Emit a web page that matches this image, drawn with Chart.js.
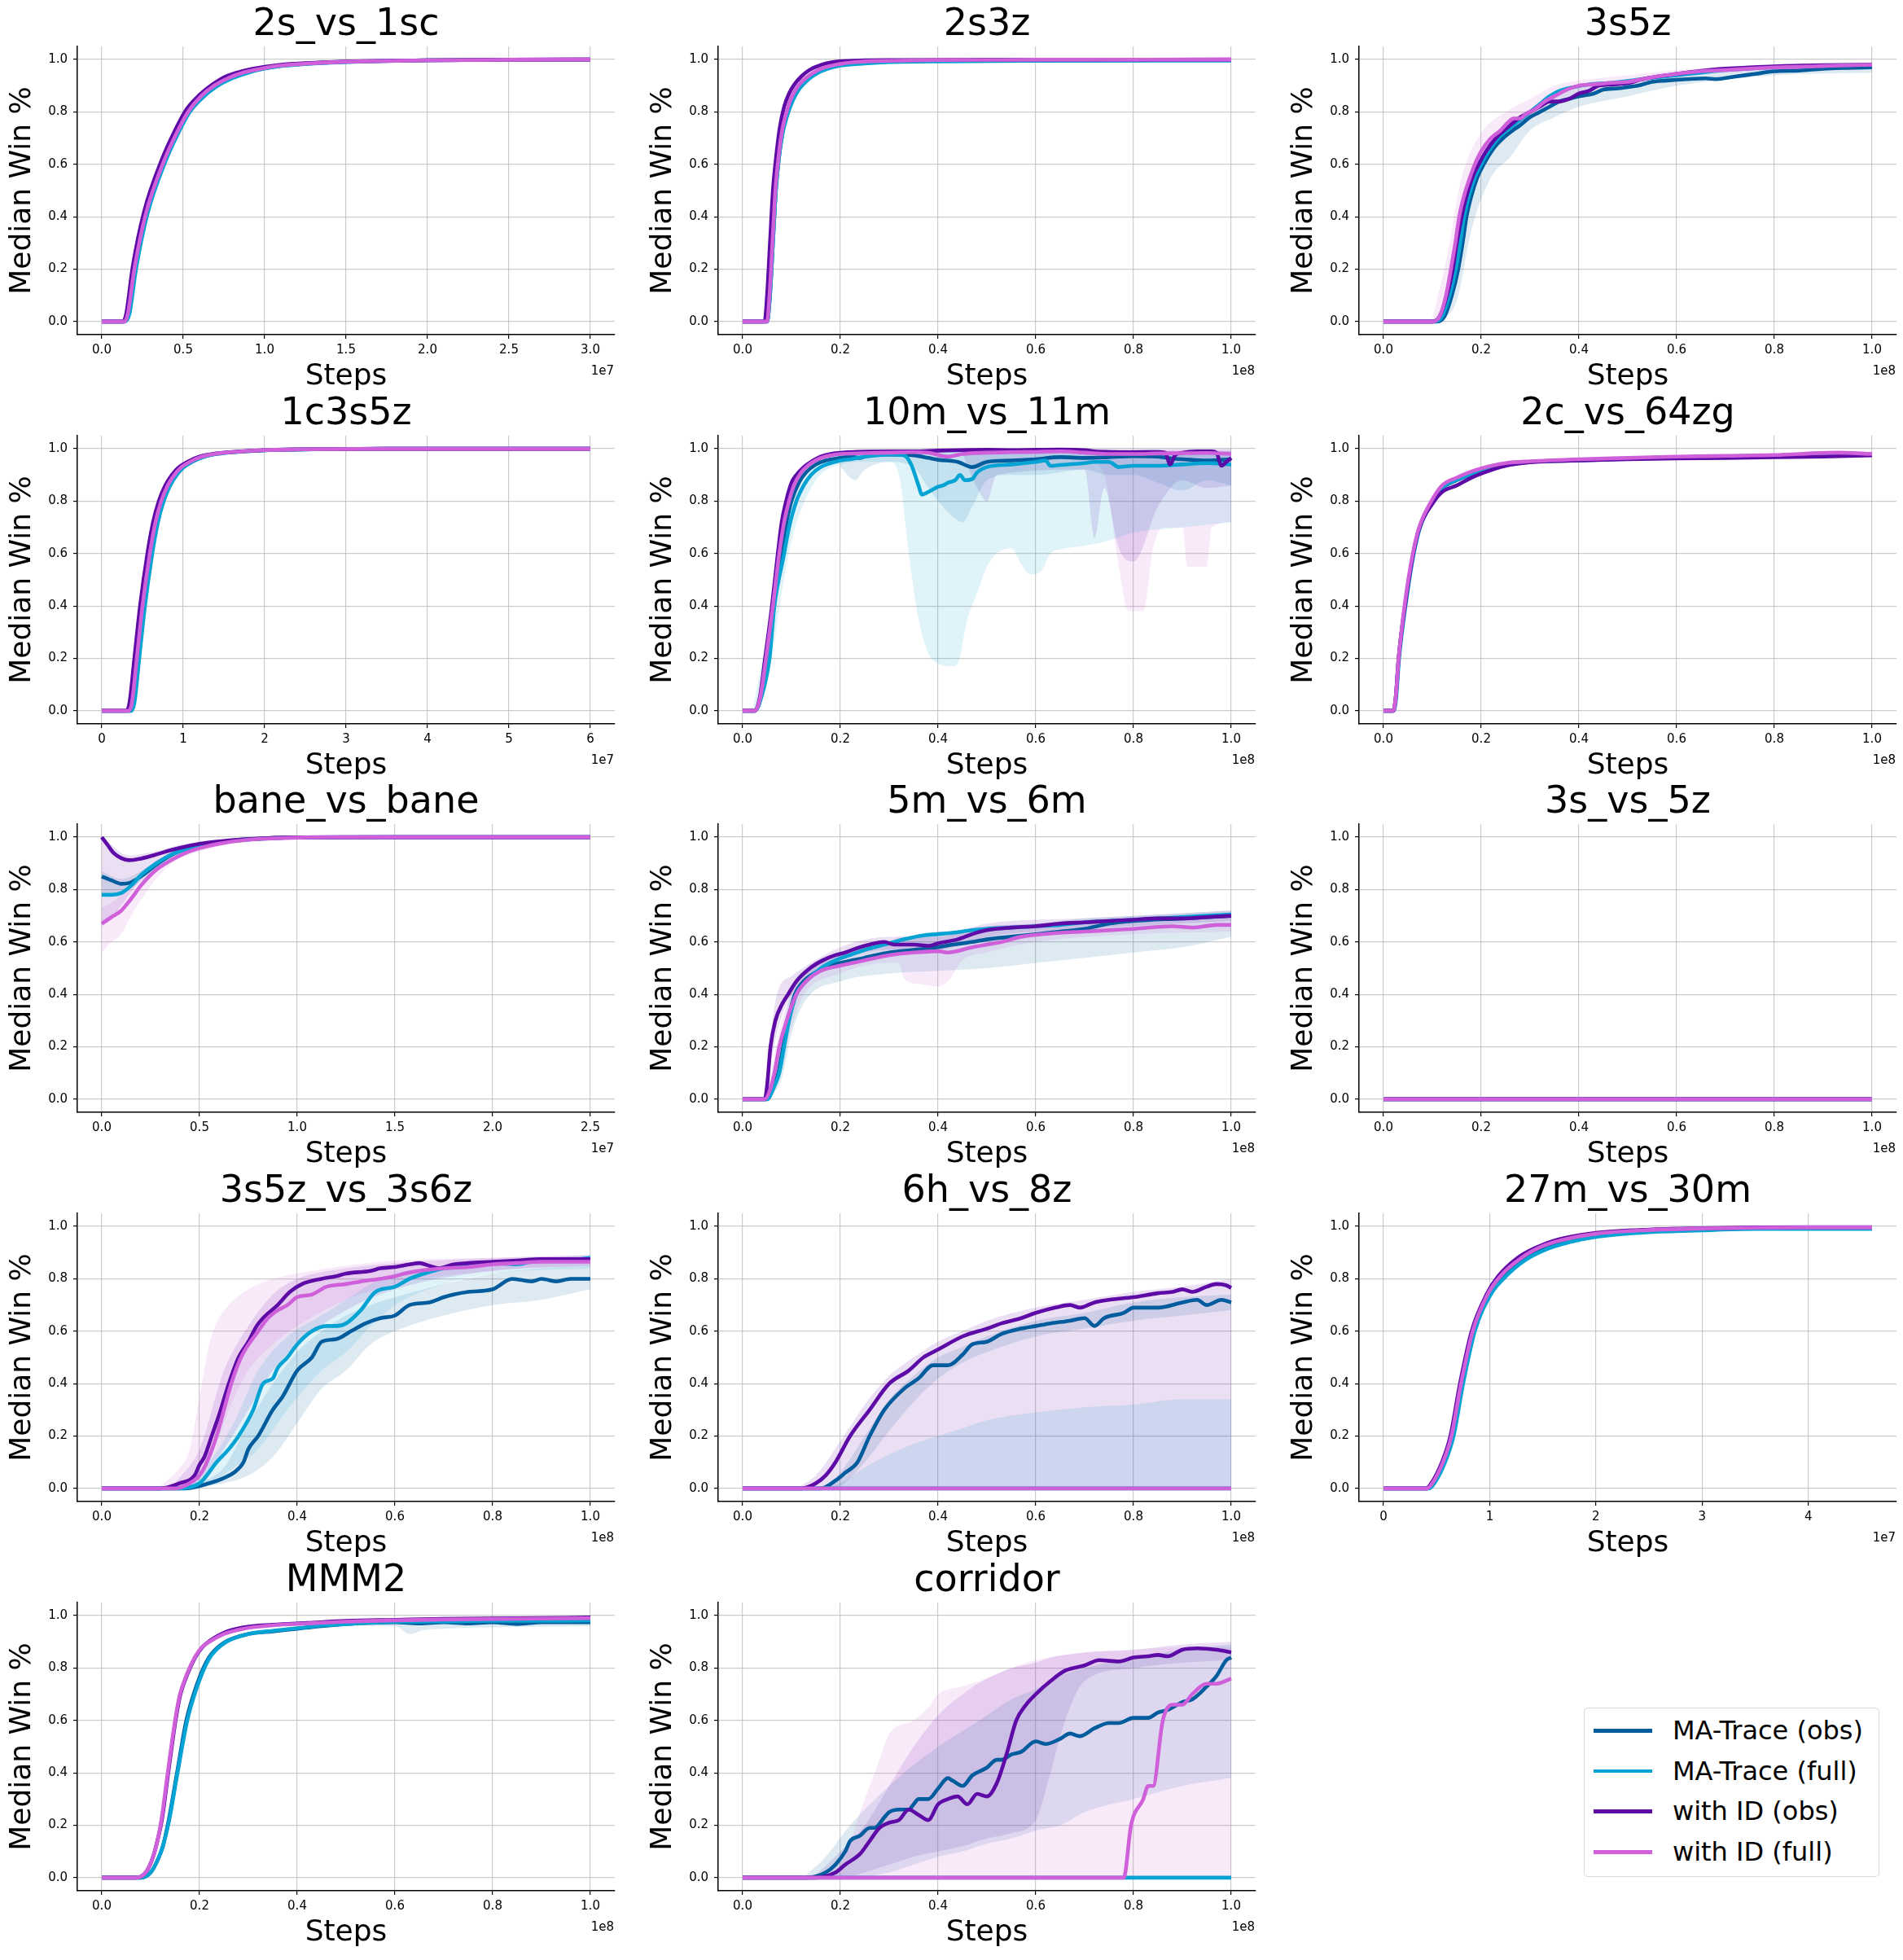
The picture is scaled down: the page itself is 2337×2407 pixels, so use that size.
<!DOCTYPE html>
<html><head><meta charset="utf-8">
<script src="https://cdn.jsdelivr.net/npm/chart.js@4.4.1/dist/chart.umd.min.js"></script>
<style>
html,body{margin:0;padding:0;background:#fff;}
body{width:2337px;height:2407px;position:relative;overflow:hidden;font-family:"DejaVu Sans",sans-serif;}
canvas{position:absolute;}
#legend{position:absolute;left:1945px;top:2097px;width:361px;height:206px;border:1.5px solid #d9d9d9;border-radius:5px;background:#fff;}
.lrow{position:absolute;left:0;height:40px;line-height:40px;font-size:32px;color:#000;white-space:nowrap;}
.lsw{position:absolute;left:11px;top:18px;width:72px;height:4.5px;}
.ltx{position:absolute;left:108px;top:0;}
</style></head>
<body>
<div id="legend"></div>
<script>
// ---------- series names & colours ----------
const seriesNames = ['MA-Trace (obs)','MA-Trace (full)','with ID (obs)','with ID (full)'];
const seriesColors = ['#015C9E','#04A3D3','#5E0AA6','#CF60DA'];

// ---------- tick values ----------
const yTicks = [0,0.2,0.4,0.6,0.8,1.0];
const xt_1 = [0,0.2,0.4,0.6,0.8,1.0];
const xt_3 = [0,0.5,1.0,1.5,2.0,2.5,3.0];
const xt_25 = [0,0.5,1.0,1.5,2.0,2.5];
const xt_6 = [0,1,2,3,4,5,6];
const xt_4 = [0,1,2,3,4];

// ---------- 2s_vs_1sc (x in 1e7 steps) ----------
const d_2s_vs_1sc_maObs = [[0,0],[0.14,0],[0.16,0.03],[0.2,0.2],[0.27,0.41],[0.38,0.61],[0.46,0.72],[0.53,0.8],[0.61,0.858],[0.69,0.898],[0.78,0.93],[0.88,0.951],[1.0,0.967],[1.1,0.976],[1.25,0.984],[1.4,0.989],[1.6,0.993],[2.0,0.997],[2.5,0.999],[3.0,1.0]];
const d_2s_vs_1sc_maFull = [[0,0],[0.14,0],[0.17,0.03],[0.21,0.2],[0.28,0.41],[0.39,0.61],[0.47,0.72],[0.54,0.8],[0.62,0.855],[0.7,0.895],[0.8,0.928],[0.9,0.95],[1.0,0.965],[1.12,0.976],[1.3,0.985],[1.5,0.99],[1.7,0.994],[2.0,0.997],[2.5,0.998],[3.0,1.0]];
const d_2s_vs_1sc_idObs = [[0,0],[0.13,0],[0.15,0.03],[0.19,0.21],[0.26,0.42],[0.37,0.62],[0.45,0.73],[0.52,0.81],[0.6,0.865],[0.68,0.905],[0.76,0.935],[0.86,0.955],[1.0,0.972],[1.1,0.98],[1.25,0.986],[1.4,0.99],[1.6,0.994],[2.0,0.997],[2.5,0.999],[3.0,1.0]];
const d_2s_vs_1sc_idFull = [[0,0],[0.14,0],[0.16,0.03],[0.2,0.2],[0.27,0.41],[0.38,0.61],[0.46,0.72],[0.53,0.8],[0.61,0.86],[0.69,0.9],[0.78,0.93],[0.88,0.952],[1.0,0.968],[1.1,0.977],[1.25,0.984],[1.4,0.989],[1.6,0.993],[2.0,0.997],[2.5,0.999],[3.0,1.0]];

// ---------- 2s3z (1e8) ----------
const d_2s3z_maObs = [[0,0],[0.05,0],[0.056,0.1],[0.062,0.3],[0.068,0.5],[0.074,0.62],[0.082,0.725],[0.091,0.795],[0.102,0.85],[0.116,0.895],[0.133,0.93],[0.152,0.953],[0.175,0.97],[0.2,0.98],[0.25,0.988],[0.3,0.992],[0.4,0.995],[0.6,0.997],[1.0,0.998]];
const d_2s3z_maFull = [[0,0],[0.05,0],[0.056,0.1],[0.062,0.3],[0.068,0.5],[0.074,0.62],[0.082,0.72],[0.092,0.79],[0.103,0.845],[0.117,0.89],[0.135,0.925],[0.155,0.95],[0.18,0.968],[0.2,0.977],[0.25,0.985],[0.3,0.99],[0.4,0.993],[0.6,0.995],[1.0,0.996]];
const d_2s3z_idObs = [[0,0],[0.045,0],[0.05,0.1],[0.056,0.3],[0.062,0.5],[0.068,0.62],[0.076,0.74],[0.085,0.82],[0.095,0.87],[0.106,0.905],[0.12,0.935],[0.135,0.958],[0.15,0.972],[0.17,0.985],[0.2,0.993],[0.25,0.997],[0.3,0.998],[0.5,0.999],[1.0,1.0]];
const d_2s3z_idFull = [[0,0],[0.05,0],[0.055,0.1],[0.061,0.3],[0.067,0.5],[0.073,0.62],[0.081,0.73],[0.09,0.8],[0.1,0.855],[0.114,0.9],[0.13,0.93],[0.145,0.95],[0.165,0.968],[0.196,0.982],[0.23,0.99],[0.3,0.995],[0.4,0.998],[0.6,0.999],[1.0,1.0]];

// ---------- 3s5z (1e8) ----------
const d_3s5z_maObs = [[0,0],[0.11,0],[0.125,0.02],[0.14,0.1],[0.153,0.2],[0.162,0.3],[0.17,0.4],[0.18,0.48],[0.192,0.55],[0.205,0.6],[0.225,0.66],[0.245,0.7],[0.265,0.73],[0.28,0.75],[0.3,0.78],[0.32,0.8],[0.34,0.82],[0.36,0.84],[0.38,0.85],[0.4,0.86],[0.43,0.87],[0.45,0.885],[0.48,0.89],[0.5,0.895],[0.52,0.9],[0.55,0.915],[0.58,0.92],[0.62,0.925],[0.66,0.928],[0.68,0.925],[0.72,0.935],[0.76,0.945],[0.8,0.955],[0.85,0.958],[0.9,0.965],[0.95,0.968],[1.0,0.97]];
const d_3s5z_maFull = [[0,0],[0.105,0],[0.12,0.02],[0.135,0.1],[0.148,0.2],[0.157,0.3],[0.165,0.4],[0.175,0.48],[0.187,0.55],[0.2,0.6],[0.215,0.65],[0.235,0.7],[0.26,0.74],[0.28,0.77],[0.3,0.8],[0.32,0.83],[0.34,0.86],[0.36,0.88],[0.39,0.895],[0.42,0.905],[0.46,0.91],[0.5,0.918],[0.55,0.93],[0.6,0.94],[0.65,0.95],[0.7,0.96],[0.8,0.97],[0.9,0.977],[1.0,0.98]];
const d_3s5z_idObs = [[0,0],[0.1,0],[0.115,0.02],[0.13,0.1],[0.142,0.2],[0.15,0.3],[0.16,0.4],[0.17,0.48],[0.182,0.55],[0.195,0.6],[0.21,0.65],[0.23,0.7],[0.26,0.75],[0.28,0.78],[0.3,0.8],[0.32,0.82],[0.34,0.84],[0.36,0.84],[0.38,0.85],[0.4,0.87],[0.42,0.88],[0.44,0.9],[0.47,0.905],[0.5,0.91],[0.53,0.925],[0.56,0.935],[0.6,0.945],[0.65,0.957],[0.7,0.965],[0.75,0.97],[0.8,0.974],[0.9,0.978],[1.0,0.98]];
const d_3s5z_idFull = [[0,0],[0.1,0],[0.115,0.02],[0.128,0.1],[0.138,0.2],[0.147,0.3],[0.155,0.4],[0.165,0.48],[0.177,0.55],[0.187,0.6],[0.2,0.65],[0.22,0.7],[0.24,0.73],[0.255,0.76],[0.266,0.775],[0.28,0.775],[0.29,0.79],[0.31,0.81],[0.33,0.84],[0.35,0.86],[0.37,0.88],[0.4,0.9],[0.43,0.905],[0.46,0.91],[0.5,0.915],[0.53,0.925],[0.56,0.935],[0.6,0.945],[0.65,0.955],[0.7,0.96],[0.75,0.965],[0.8,0.97],[0.85,0.972],[0.9,0.975],[0.95,0.978],[1.0,0.98]];
const b_3s5z_idFull = [[0.1,0,0.01],[0.13,0.05,0.25],[0.16,0.35,0.55],[0.2,0.58,0.72],[0.25,0.7,0.8],[0.3,0.77,0.85],[0.35,0.83,0.9],[0.4,0.87,0.92],[0.5,0.89,0.94],[0.6,0.93,0.96],[0.8,0.96,0.98],[1.0,0.97,0.99]];
const b_3s5z_maObs = [[0.11,0,0.01],[0.15,0.08,0.2],[0.18,0.35,0.5],[0.22,0.55,0.68],[0.26,0.63,0.76],[0.3,0.73,0.81],[0.35,0.78,0.86],[0.4,0.82,0.89],[0.5,0.86,0.92],[0.6,0.9,0.94],[0.8,0.94,0.97],[1.0,0.95,0.98]];

// ---------- 1c3s5z (1e7) ----------
const d_1c3s5z_maObs = [[0,0],[0.35,0],[0.39,0.03],[0.45,0.2],[0.52,0.4],[0.61,0.6],[0.68,0.72],[0.75,0.8],[0.83,0.86],[0.91,0.9],[1.0,0.93],[1.1,0.95],[1.25,0.97],[1.45,0.982],[1.75,0.99],[2.05,0.995],[2.6,0.998],[3.5,1.0],[6.0,1.0]];
const d_1c3s5z_maFull = [[0,0],[0.36,0],[0.4,0.03],[0.46,0.2],[0.53,0.4],[0.62,0.6],[0.69,0.72],[0.76,0.8],[0.84,0.86],[0.92,0.9],[1.01,0.93],[1.11,0.95],[1.26,0.97],[1.46,0.982],[1.76,0.99],[2.05,0.995],[2.6,0.998],[3.5,1.0],[6.0,1.0]];
const d_1c3s5z_idObs = [[0,0],[0.3,0],[0.34,0.03],[0.4,0.2],[0.47,0.4],[0.56,0.6],[0.63,0.72],[0.7,0.8],[0.78,0.86],[0.86,0.9],[0.95,0.93],[1.05,0.95],[1.2,0.97],[1.4,0.982],[1.7,0.99],[2.0,0.995],[2.5,0.998],[3.5,1.0],[6.0,1.0]];
const d_1c3s5z_idFull = [[0,0],[0.33,0],[0.37,0.03],[0.43,0.2],[0.5,0.4],[0.59,0.6],[0.66,0.72],[0.73,0.8],[0.81,0.86],[0.89,0.9],[0.98,0.93],[1.08,0.95],[1.23,0.97],[1.43,0.982],[1.73,0.99],[2.0,0.995],[2.5,0.998],[3.5,1.0],[6.0,1.0]];

// ---------- 10m_vs_11m (1e8) ----------
const d_10m_vs_11m_maObs = [[0,0],[0.025,0],[0.037,0.05],[0.05,0.2],[0.065,0.42],[0.08,0.6],[0.09,0.72],[0.1,0.8],[0.115,0.87],[0.13,0.91],[0.15,0.94],[0.17,0.955],[0.2,0.965],[0.22,0.97],[0.24,0.965],[0.26,0.975],[0.3,0.978],[0.35,0.975],[0.38,0.965],[0.4,0.958],[0.44,0.95],[0.47,0.93],[0.5,0.95],[0.55,0.955],[0.6,0.96],[0.65,0.968],[0.7,0.965],[0.75,0.968],[0.8,0.972],[0.85,0.97],[0.88,0.962],[0.9,0.96],[0.95,0.955],[1.0,0.96]];
const d_10m_vs_11m_maFull = [[0,0],[0.025,0],[0.038,0.05],[0.055,0.2],[0.065,0.4],[0.085,0.6],[0.095,0.7],[0.11,0.8],[0.125,0.86],[0.14,0.9],[0.16,0.93],[0.2,0.955],[0.22,0.96],[0.25,0.97],[0.3,0.978],[0.33,0.975],[0.345,0.94],[0.36,0.86],[0.367,0.825],[0.38,0.835],[0.4,0.855],[0.41,0.86],[0.42,0.87],[0.435,0.88],[0.445,0.9],[0.455,0.88],[0.47,0.885],[0.48,0.91],[0.5,0.93],[0.55,0.94],[0.6,0.95],[0.62,0.955],[0.63,0.935],[0.65,0.938],[0.7,0.945],[0.72,0.95],[0.75,0.95],[0.77,0.93],[0.8,0.935],[0.85,0.935],[0.9,0.94],[0.95,0.945],[1.0,0.94]];
const d_10m_vs_11m_idObs = [[0,0],[0.025,0],[0.035,0.05],[0.046,0.2],[0.06,0.4],[0.072,0.6],[0.08,0.72],[0.089,0.8],[0.1,0.87],[0.11,0.9],[0.125,0.93],[0.14,0.95],[0.16,0.97],[0.18,0.98],[0.22,0.987],[0.3,0.99],[0.35,0.99],[0.4,0.993],[0.45,0.995],[0.5,0.996],[0.55,0.995],[0.6,0.996],[0.65,0.997],[0.7,0.995],[0.72,0.99],[0.75,0.988],[0.8,0.987],[0.85,0.988],[0.865,0.985],[0.875,0.94],[0.885,0.975],[0.9,0.985],[0.93,0.99],[0.96,0.99],[0.97,0.985],[0.98,0.935],[0.99,0.95],[1.0,0.965]];
const d_10m_vs_11m_idFull = [[0,0],[0.025,0],[0.036,0.05],[0.048,0.2],[0.062,0.4],[0.075,0.6],[0.085,0.72],[0.095,0.8],[0.105,0.86],[0.12,0.91],[0.14,0.945],[0.16,0.965],[0.18,0.975],[0.2,0.98],[0.25,0.983],[0.3,0.985],[0.35,0.987],[0.38,0.985],[0.42,0.97],[0.45,0.98],[0.5,0.985],[0.55,0.987],[0.6,0.988],[0.65,0.99],[0.7,0.985],[0.75,0.98],[0.8,0.98],[0.85,0.982],[0.9,0.983],[0.95,0.984],[1.0,0.98]];
const b_10m_vs_11m_maFull = [[0.02,0,0],[0.05,0.1,0.3],[0.08,0.45,0.7],[0.1,0.65,0.85],[0.15,0.88,0.96],[0.2,0.94,0.98],[0.25,0.95,0.99],[0.3,0.95,0.99],[0.32,0.9,0.99],[0.34,0.6,0.99],[0.36,0.35,0.99],[0.38,0.22,0.99],[0.4,0.18,0.99],[0.43,0.17,0.99],[0.44,0.18,0.99],[0.46,0.35,0.99],[0.48,0.45,0.99],[0.5,0.55,0.99],[0.52,0.6,0.99],[0.55,0.62,0.99],[0.57,0.56,0.99],[0.59,0.52,0.99],[0.61,0.53,0.99],[0.63,0.6,0.99],[0.66,0.62,0.99],[0.7,0.63,0.99],[0.75,0.65,0.99],[0.8,0.68,0.99],[0.9,0.7,0.99],[1.0,0.72,0.99]];
const b_10m_vs_11m_maObs = [[0.2,0.93,0.99],[0.23,0.88,0.99],[0.25,0.92,0.99],[0.3,0.95,0.99],[0.35,0.93,0.99],[0.38,0.85,0.99],[0.43,0.74,0.99],[0.45,0.72,0.99],[0.47,0.78,0.99],[0.5,0.88,0.99],[0.55,0.9,0.99],[0.6,0.9,0.99],[0.7,0.92,0.99],[0.75,0.9,0.99],[0.8,0.9,0.99],[0.85,0.87,0.99],[0.9,0.84,0.99],[0.95,0.88,0.99],[1.0,0.86,0.99]];
const b_10m_vs_11m_idObs = [[0.45,0.98,1.0],[0.48,0.85,1.0],[0.5,0.8,1.0],[0.52,0.9,1.0],[0.7,0.92,1.0],[0.72,0.66,1.0],[0.74,0.85,1.0],[0.77,0.62,1.0],[0.8,0.57,1.0],[0.85,0.78,1.0],[0.9,0.88,1.0],[0.95,0.85,1.0],[1.0,0.86,1.0]];
const b_10m_vs_11m_idFull = [[0.7,0.97,0.995],[0.74,0.9,0.995],[0.77,0.55,0.995],[0.79,0.38,0.995],[0.82,0.38,0.995],[0.84,0.62,0.995],[0.86,0.7,0.995],[0.9,0.7,0.995],[0.91,0.55,0.995],[0.95,0.55,0.995],[0.96,0.7,0.995],[1.0,0.72,0.995]];

// ---------- 2c_vs_64zg (1e8) ----------
const d_2c_vs_64zg_maObs = [[0,0],[0.02,0],[0.025,0.05],[0.031,0.2],[0.044,0.4],[0.061,0.6],[0.074,0.7],[0.1,0.8],[0.12,0.85],[0.15,0.88],[0.175,0.9],[0.2,0.92],[0.25,0.94],[0.3,0.95],[0.4,0.955],[0.5,0.962],[0.6,0.968],[0.7,0.97],[0.8,0.973],[0.9,0.977],[1.0,0.978]];
const d_2c_vs_64zg_maFull = [[0,0],[0.021,0],[0.026,0.05],[0.032,0.2],[0.045,0.4],[0.062,0.6],[0.075,0.7],[0.101,0.8],[0.12,0.85],[0.15,0.882],[0.175,0.9],[0.2,0.918],[0.25,0.94],[0.3,0.95],[0.4,0.957],[0.5,0.963],[0.6,0.967],[0.7,0.971],[0.8,0.974],[0.9,0.978],[1.0,0.98]];
const d_2c_vs_64zg_idObs = [[0,0],[0.02,0],[0.025,0.05],[0.031,0.2],[0.044,0.4],[0.061,0.6],[0.074,0.7],[0.1,0.79],[0.12,0.835],[0.15,0.86],[0.175,0.885],[0.2,0.905],[0.25,0.935],[0.3,0.948],[0.4,0.955],[0.5,0.96],[0.6,0.963],[0.7,0.965],[0.8,0.968],[0.9,0.97],[1.0,0.975]];
const d_2c_vs_64zg_idFull = [[0,0],[0.02,0],[0.025,0.05],[0.031,0.2],[0.043,0.4],[0.06,0.6],[0.073,0.7],[0.098,0.8],[0.12,0.86],[0.15,0.89],[0.175,0.91],[0.2,0.925],[0.25,0.945],[0.3,0.952],[0.4,0.96],[0.5,0.965],[0.6,0.97],[0.7,0.973],[0.8,0.976],[0.93,0.985],[1.0,0.98]];

// ---------- bane_vs_bane (1e7) ----------
const d_bane_vs_bane_maObs = [[0,0.85],[0.05,0.835],[0.1,0.822],[0.14,0.825],[0.2,0.85],[0.28,0.895],[0.35,0.93],[0.45,0.96],[0.55,0.975],[0.7,0.99],[0.85,0.996],[1.0,0.999],[1.5,1.0],[2.5,1.0]];
const d_bane_vs_bane_maFull = [[0,0.78],[0.05,0.78],[0.1,0.787],[0.15,0.815],[0.2,0.855],[0.28,0.9],[0.36,0.935],[0.45,0.958],[0.55,0.975],[0.7,0.988],[0.85,0.995],[1.0,0.999],[1.5,1.0],[2.5,1.0]];
const d_bane_vs_bane_idObs = [[0,1.0],[0.03,0.97],[0.06,0.94],[0.1,0.92],[0.14,0.912],[0.2,0.918],[0.27,0.932],[0.35,0.95],[0.45,0.968],[0.55,0.98],[0.7,0.99],[0.85,0.996],[1.0,0.999],[1.5,1.0],[2.5,1.0]];
const d_bane_vs_bane_idFull = [[0,0.67],[0.05,0.695],[0.1,0.72],[0.15,0.765],[0.2,0.815],[0.27,0.87],[0.35,0.91],[0.43,0.94],[0.5,0.958],[0.6,0.975],[0.75,0.99],[0.9,0.996],[1.2,1.0],[2.5,1.0]];
const b_bane_vs_bane_idObs = [[0,0.66,1.0],[0.05,0.69,0.97],[0.1,0.74,0.94],[0.15,0.79,0.93],[0.2,0.84,0.935],[0.3,0.9,0.95],[0.4,0.94,0.97],[0.5,0.96,0.98],[0.7,0.985,0.995],[1.0,0.998,1.0]];
const b_bane_vs_bane_idFull = [[0,0.56,0.73],[0.05,0.6,0.75],[0.1,0.63,0.78],[0.15,0.7,0.82],[0.2,0.76,0.86],[0.3,0.86,0.92],[0.4,0.92,0.95],[0.5,0.945,0.97],[0.7,0.98,0.99],[1.0,0.997,1.0]];
const b_bane_vs_bane_maObs = [[0,0.78,0.87],[0.1,0.79,0.84],[0.2,0.83,0.87],[0.3,0.89,0.92],[0.5,0.96,0.98],[1.0,0.998,1.0]];

// ---------- 5m_vs_6m (1e8) ----------
const d_5m_vs_6m_maObs = [[0,0],[0.05,0],[0.063,0.05],[0.073,0.1],[0.083,0.2],[0.093,0.3],[0.107,0.4],[0.125,0.45],[0.155,0.49],[0.18,0.51],[0.2,0.52],[0.25,0.54],[0.3,0.56],[0.35,0.57],[0.4,0.58],[0.43,0.59],[0.47,0.6],[0.5,0.61],[0.55,0.62],[0.6,0.63],[0.65,0.64],[0.7,0.65],[0.75,0.67],[0.8,0.68],[0.9,0.69],[1.0,0.7]];
const d_5m_vs_6m_maFull = [[0,0],[0.05,0],[0.065,0.05],[0.075,0.1],[0.085,0.2],[0.095,0.3],[0.11,0.4],[0.13,0.45],[0.16,0.5],[0.19,0.53],[0.22,0.55],[0.25,0.57],[0.28,0.585],[0.31,0.6],[0.33,0.61],[0.37,0.625],[0.4,0.63],[0.43,0.635],[0.47,0.645],[0.5,0.65],[0.55,0.655],[0.6,0.66],[0.65,0.665],[0.7,0.675],[0.75,0.68],[0.8,0.685],[0.85,0.69],[0.9,0.695],[0.95,0.7],[1.0,0.705]];
const d_5m_vs_6m_idObs = [[0,0],[0.045,0],[0.05,0.05],[0.057,0.2],[0.067,0.3],[0.08,0.36],[0.093,0.4],[0.11,0.45],[0.138,0.5],[0.164,0.53],[0.19,0.55],[0.21,0.56],[0.24,0.58],[0.26,0.59],[0.29,0.6],[0.31,0.59],[0.35,0.59],[0.38,0.585],[0.4,0.595],[0.44,0.61],[0.47,0.63],[0.5,0.645],[0.55,0.655],[0.6,0.66],[0.65,0.67],[0.7,0.675],[0.75,0.68],[0.8,0.685],[0.85,0.69],[0.9,0.69],[0.95,0.695],[1.0,0.7]];
const d_5m_vs_6m_idFull = [[0,0],[0.045,0],[0.055,0.03],[0.065,0.1],[0.075,0.2],[0.09,0.3],[0.11,0.4],[0.13,0.45],[0.16,0.49],[0.2,0.51],[0.25,0.53],[0.3,0.55],[0.35,0.56],[0.4,0.565],[0.42,0.56],[0.47,0.58],[0.5,0.59],[0.53,0.6],[0.57,0.62],[0.65,0.635],[0.7,0.64],[0.75,0.645],[0.8,0.65],[0.88,0.66],[0.92,0.655],[0.97,0.665],[1.0,0.665]];
const b_5m_vs_6m_maObs = [[0.05,0,0.01],[0.08,0.08,0.25],[0.1,0.25,0.42],[0.13,0.38,0.5],[0.2,0.45,0.56],[0.3,0.48,0.6],[0.4,0.49,0.63],[0.5,0.5,0.66],[0.6,0.52,0.67],[0.7,0.54,0.69],[0.8,0.56,0.7],[0.9,0.58,0.71],[1.0,0.62,0.72]];
const b_5m_vs_6m_idFull = [[0.05,0,0.02],[0.08,0.15,0.3],[0.12,0.38,0.47],[0.2,0.48,0.55],[0.3,0.52,0.6],[0.32,0.52,0.62],[0.33,0.46,0.62],[0.36,0.44,0.63],[0.4,0.43,0.64],[0.42,0.45,0.64],[0.45,0.53,0.65],[0.5,0.56,0.66],[0.6,0.6,0.67],[0.8,0.63,0.69],[1.0,0.64,0.7]];
const b_5m_vs_6m_idObs = [[0.045,0,0.02],[0.07,0.25,0.4],[0.1,0.4,0.47],[0.2,0.53,0.58],[0.3,0.57,0.62],[0.4,0.57,0.62],[0.5,0.62,0.67],[0.7,0.65,0.69],[1.0,0.68,0.72]];

// ---------- 3s_vs_5z (1e8) ----------
const d_3s_vs_5z_maObs = [[0,0],[1.0,0]];
const d_3s_vs_5z_maFull = [[0,0],[1.0,0]];
const d_3s_vs_5z_idObs = [[0,0],[1.0,0]];
const d_3s_vs_5z_idFull = [[0,0],[1.0,0]];

// ---------- 3s5z_vs_3s6z (1e8) ----------
const d_3s5z_vs_3s6z_maObs = [[0,0],[0.17,0],[0.22,0.02],[0.25,0.04],[0.27,0.06],[0.29,0.1],[0.3,0.15],[0.32,0.2],[0.35,0.3],[0.37,0.35],[0.4,0.45],[0.43,0.5],[0.45,0.56],[0.48,0.57],[0.51,0.6],[0.54,0.63],[0.57,0.65],[0.6,0.66],[0.63,0.7],[0.67,0.71],[0.7,0.73],[0.72,0.74],[0.75,0.75],[0.8,0.76],[0.84,0.8],[0.88,0.79],[0.9,0.8],[0.93,0.79],[0.96,0.8],[1.0,0.8]];
const d_3s5z_vs_3s6z_maFull = [[0,0],[0.15,0],[0.2,0.02],[0.235,0.1],[0.26,0.15],[0.28,0.2],[0.31,0.3],[0.33,0.4],[0.35,0.42],[0.36,0.46],[0.38,0.5],[0.4,0.55],[0.43,0.6],[0.46,0.62],[0.48,0.62],[0.5,0.63],[0.53,0.68],[0.56,0.75],[0.6,0.77],[0.63,0.8],[0.66,0.82],[0.7,0.84],[0.75,0.85],[0.8,0.86],[0.85,0.855],[0.9,0.875],[0.95,0.87],[1.0,0.88]];
const d_3s5z_vs_3s6z_idObs = [[0,0],[0.12,0],[0.16,0.02],[0.19,0.05],[0.2,0.09],[0.21,0.12],[0.225,0.2],[0.24,0.28],[0.26,0.4],[0.28,0.5],[0.3,0.56],[0.317,0.62],[0.33,0.65],[0.36,0.7],[0.385,0.75],[0.41,0.78],[0.45,0.8],[0.48,0.81],[0.5,0.82],[0.55,0.83],[0.57,0.84],[0.6,0.845],[0.63,0.855],[0.65,0.86],[0.67,0.85],[0.69,0.84],[0.72,0.855],[0.75,0.86],[0.8,0.865],[0.85,0.87],[0.9,0.875],[1.0,0.875]];
const d_3s5z_vs_3s6z_idFull = [[0,0],[0.15,0],[0.18,0.02],[0.2,0.05],[0.215,0.1],[0.235,0.2],[0.25,0.3],[0.265,0.4],[0.285,0.5],[0.32,0.6],[0.34,0.65],[0.36,0.68],[0.38,0.7],[0.4,0.73],[0.43,0.74],[0.46,0.77],[0.5,0.78],[0.53,0.79],[0.57,0.8],[0.6,0.81],[0.62,0.82],[0.65,0.83],[0.7,0.84],[0.75,0.845],[0.8,0.855],[0.85,0.86],[0.9,0.865],[1.0,0.865]];
const b_3s5z_vs_3s6z_idFull = [[0.12,0,0.01],[0.16,0.01,0.08],[0.18,0.02,0.15],[0.2,0.05,0.35],[0.22,0.12,0.55],[0.24,0.2,0.65],[0.26,0.3,0.7],[0.3,0.45,0.76],[0.35,0.55,0.8],[0.4,0.62,0.82],[0.5,0.72,0.85],[0.6,0.78,0.87],[0.8,0.83,0.88],[1.0,0.85,0.89]];
const b_3s5z_vs_3s6z_idObs = [[0.15,0,0.02],[0.2,0.03,0.15],[0.25,0.15,0.45],[0.3,0.3,0.62],[0.35,0.45,0.74],[0.4,0.55,0.8],[0.5,0.68,0.84],[0.6,0.76,0.86],[0.8,0.83,0.88],[1.0,0.85,0.89]];
const b_3s5z_vs_3s6z_maFull = [[0.17,0,0.02],[0.22,0.02,0.1],[0.27,0.08,0.25],[0.32,0.15,0.45],[0.38,0.3,0.58],[0.45,0.45,0.66],[0.5,0.52,0.72],[0.55,0.62,0.78],[0.6,0.7,0.82],[0.7,0.78,0.85],[0.8,0.82,0.87],[1.0,0.84,0.89]];
const b_3s5z_vs_3s6z_maObs = [[0.18,0,0.01],[0.25,0.02,0.08],[0.3,0.05,0.25],[0.35,0.12,0.4],[0.4,0.25,0.52],[0.45,0.38,0.6],[0.5,0.45,0.66],[0.55,0.55,0.7],[0.6,0.6,0.73],[0.7,0.66,0.78],[0.8,0.7,0.82],[0.9,0.72,0.84],[1.0,0.76,0.85]];

// ---------- 6h_vs_8z (1e8) ----------
const d_6h_vs_8z_maObs = [[0,0],[0.16,0],[0.19,0.03],[0.21,0.06],[0.235,0.1],[0.26,0.2],[0.29,0.3],[0.33,0.38],[0.36,0.42],[0.39,0.47],[0.42,0.47],[0.45,0.51],[0.47,0.55],[0.5,0.56],[0.53,0.59],[0.57,0.61],[0.6,0.62],[0.63,0.63],[0.67,0.64],[0.7,0.65],[0.72,0.62],[0.74,0.65],[0.78,0.67],[0.8,0.69],[0.85,0.69],[0.9,0.71],[0.93,0.72],[0.95,0.7],[0.98,0.72],[1.0,0.71]];
const d_6h_vs_8z_maFull = [[0,0],[1.0,0]];
const d_6h_vs_8z_idObs = [[0,0],[0.12,0],[0.15,0.02],[0.17,0.05],[0.19,0.1],[0.22,0.2],[0.26,0.3],[0.3,0.4],[0.34,0.45],[0.37,0.5],[0.4,0.53],[0.45,0.58],[0.5,0.61],[0.53,0.63],[0.57,0.65],[0.6,0.67],[0.64,0.69],[0.67,0.7],[0.69,0.69],[0.72,0.71],[0.75,0.72],[0.8,0.73],[0.85,0.745],[0.88,0.75],[0.9,0.76],[0.92,0.75],[0.95,0.77],[0.97,0.78],[0.99,0.775],[1.0,0.765]];
const d_6h_vs_8z_idFull = [[0,0],[1.0,0]];
const b_6h_vs_8z_idObs = [[0.12,0,0.01],[0.15,0,0.05],[0.2,0,0.18],[0.25,0,0.32],[0.3,0,0.43],[0.35,0,0.5],[0.4,0,0.56],[0.45,0,0.6],[0.5,0,0.64],[0.6,0,0.69],[0.7,0,0.72],[0.8,0,0.75],[0.9,0,0.77],[1.0,0,0.8]];
const b_6h_vs_8z_maObs = [[0.17,0,0.01],[0.2,0.01,0.06],[0.25,0.1,0.2],[0.3,0.22,0.34],[0.35,0.33,0.43],[0.4,0.42,0.5],[0.45,0.48,0.54],[0.5,0.52,0.58],[0.6,0.58,0.64],[0.7,0.61,0.67],[0.8,0.64,0.71],[0.9,0.66,0.73],[1.0,0.68,0.74]];
const b_6h_vs_8z_maFull = [[0.15,0,0],[0.2,0,0.02],[0.25,0,0.08],[0.3,0,0.13],[0.35,0,0.17],[0.4,0,0.2],[0.45,0,0.23],[0.5,0,0.26],[0.6,0,0.29],[0.7,0,0.31],[0.8,0,0.32],[0.9,0,0.34],[1.0,0,0.34]];

// ---------- 27m_vs_30m (1e7) ----------
const d_27m_vs_30m_maObs = [[0,0],[0.42,0],[0.47,0.02],[0.57,0.1],[0.65,0.2],[0.74,0.4],[0.85,0.6],[1.0,0.74],[1.12,0.8],[1.32,0.875],[1.55,0.92],[1.75,0.945],[2.0,0.965],[2.5,0.982],[3.0,0.99],[3.5,0.993],[4.0,0.995],[4.6,0.995]];
const d_27m_vs_30m_maFull = [[0,0],[0.43,0],[0.48,0.02],[0.58,0.1],[0.66,0.2],[0.75,0.4],[0.86,0.6],[1.01,0.74],[1.13,0.8],[1.33,0.87],[1.55,0.915],[1.75,0.94],[2.0,0.96],[2.5,0.978],[3.0,0.985],[3.5,0.99],[4.0,0.99],[4.6,0.99]];
const d_27m_vs_30m_idObs = [[0,0],[0.4,0],[0.45,0.02],[0.55,0.1],[0.63,0.2],[0.72,0.4],[0.83,0.6],[0.97,0.74],[1.08,0.81],[1.28,0.885],[1.5,0.93],[1.7,0.955],[2.0,0.975],[2.5,0.988],[3.0,0.993],[3.5,0.996],[4.0,0.997],[4.6,0.997]];
const d_27m_vs_30m_idFull = [[0,0],[0.41,0],[0.46,0.02],[0.56,0.1],[0.64,0.2],[0.73,0.4],[0.84,0.6],[0.98,0.74],[1.1,0.81],[1.3,0.88],[1.5,0.925],[1.7,0.95],[2.0,0.972],[2.5,0.986],[3.0,0.992],[3.5,0.995],[4.0,0.996],[4.6,0.996]];

// ---------- MMM2 (1e8) ----------
const d_MMM2_maObs = [[0,0],[0.08,0],[0.1,0.02],[0.115,0.07],[0.125,0.12],[0.137,0.22],[0.154,0.4],[0.173,0.6],[0.188,0.7],[0.208,0.8],[0.223,0.85],[0.253,0.9],[0.3,0.93],[0.35,0.94],[0.4,0.95],[0.45,0.96],[0.52,0.97],[0.6,0.975],[0.65,0.97],[0.7,0.975],[0.75,0.97],[0.8,0.975],[0.85,0.968],[0.9,0.975],[1.0,0.975]];
const d_MMM2_maFull = [[0,0],[0.08,0],[0.1,0.02],[0.115,0.07],[0.125,0.12],[0.138,0.22],[0.155,0.4],[0.175,0.6],[0.19,0.7],[0.21,0.8],[0.225,0.85],[0.255,0.9],[0.3,0.93],[0.35,0.942],[0.4,0.952],[0.45,0.962],[0.52,0.97],[0.6,0.976],[0.7,0.978],[0.8,0.98],[0.9,0.98],[1.0,0.982]];
const d_MMM2_idObs = [[0,0],[0.07,0],[0.09,0.02],[0.105,0.08],[0.115,0.15],[0.123,0.22],[0.136,0.4],[0.151,0.6],[0.161,0.7],[0.176,0.78],[0.191,0.84],[0.206,0.88],[0.222,0.905],[0.25,0.935],[0.29,0.955],[0.35,0.965],[0.42,0.972],[0.5,0.98],[0.6,0.984],[0.7,0.988],[0.85,0.99],[1.0,0.993]];
const d_MMM2_idFull = [[0,0],[0.07,0],[0.09,0.02],[0.105,0.08],[0.115,0.15],[0.122,0.22],[0.135,0.4],[0.15,0.6],[0.16,0.7],[0.175,0.78],[0.19,0.84],[0.205,0.88],[0.22,0.9],[0.25,0.93],[0.29,0.95],[0.35,0.963],[0.42,0.97],[0.5,0.977],[0.6,0.982],[0.7,0.985],[0.85,0.988],[1.0,0.99]];
const b_MMM2_maObs = [[0.55,0.96,0.985],[0.6,0.96,0.985],[0.63,0.93,0.985],[0.66,0.945,0.985],[0.7,0.95,0.985],[0.8,0.955,0.985],[1.0,0.96,0.99]];

// ---------- corridor (1e8) ----------
const d_corridor_maObs = [[0,0],[0.13,0],[0.17,0.02],[0.19,0.05],[0.21,0.1],[0.22,0.14],[0.24,0.16],[0.26,0.19],[0.27,0.19],[0.29,0.23],[0.3,0.25],[0.32,0.26],[0.34,0.26],[0.35,0.28],[0.36,0.3],[0.38,0.3],[0.4,0.34],[0.42,0.38],[0.43,0.37],[0.45,0.35],[0.47,0.39],[0.5,0.42],[0.52,0.45],[0.53,0.45],[0.55,0.47],[0.57,0.48],[0.6,0.52],[0.62,0.51],[0.65,0.53],[0.67,0.55],[0.69,0.54],[0.72,0.57],[0.75,0.59],[0.77,0.59],[0.8,0.61],[0.83,0.61],[0.85,0.63],[0.87,0.64],[0.9,0.67],[0.92,0.68],[0.95,0.73],[0.97,0.77],[0.99,0.83],[1.0,0.84]];
const d_corridor_maFull = [[0,0],[1.0,0]];
const d_corridor_idObs = [[0,0],[0.15,0],[0.19,0.02],[0.21,0.05],[0.24,0.09],[0.26,0.14],[0.28,0.19],[0.3,0.21],[0.32,0.22],[0.34,0.26],[0.36,0.24],[0.38,0.22],[0.4,0.28],[0.42,0.3],[0.44,0.31],[0.46,0.28],[0.48,0.32],[0.5,0.31],[0.52,0.36],[0.54,0.47],[0.56,0.6],[0.58,0.66],[0.6,0.7],[0.63,0.75],[0.66,0.79],[0.7,0.81],[0.73,0.83],[0.77,0.825],[0.8,0.84],[0.83,0.845],[0.85,0.85],[0.87,0.845],[0.9,0.87],[0.93,0.875],[0.97,0.87],[1.0,0.86]];
const d_corridor_idFull = [[0,0],[0.78,0],[0.795,0.2],[0.82,0.3],[0.83,0.35],[0.84,0.35],[0.86,0.6],[0.88,0.66],[0.9,0.66],[0.92,0.7],[0.95,0.74],[0.97,0.74],[1.0,0.76]];
const b_corridor_idFull = [[0.15,0,0],[0.2,0,0.05],[0.25,0,0.3],[0.28,0,0.45],[0.3,0,0.55],[0.35,0,0.6],[0.38,0,0.65],[0.4,0,0.7],[0.45,0,0.73],[0.5,0,0.76],[0.55,0,0.8],[0.6,0,0.83],[0.7,0,0.86],[0.8,0,0.87],[0.9,0,0.88],[1.0,0,0.88]];
const b_corridor_maObs = [[0.13,0,0.01],[0.17,0,0.08],[0.22,0,0.2],[0.3,0.02,0.35],[0.35,0.05,0.43],[0.4,0.08,0.5],[0.45,0.1,0.56],[0.5,0.13,0.62],[0.55,0.15,0.68],[0.6,0.18,0.72],[0.65,0.2,0.77],[0.7,0.25,0.8],[0.8,0.3,0.84],[0.9,0.35,0.87],[1.0,0.38,0.89]];
const b_corridor_idObs = [[0.15,0,0.01],[0.2,0,0.1],[0.25,0.02,0.2],[0.3,0.05,0.35],[0.35,0.08,0.5],[0.4,0.1,0.62],[0.45,0.12,0.7],[0.5,0.15,0.76],[0.55,0.17,0.8],[0.6,0.22,0.82],[0.63,0.4,0.84],[0.66,0.6,0.85],[0.7,0.75,0.86],[0.8,0.8,0.87],[0.9,0.82,0.89],[1.0,0.83,0.9]];

// ---------- subplot list ----------
const plots = [
  {title:'2s_vs_1sc', exp:'1e7', span:3.0, xticks:xt_3, dec:1, lines:[d_2s_vs_1sc_maObs,d_2s_vs_1sc_maFull,d_2s_vs_1sc_idObs,d_2s_vs_1sc_idFull], bands:[]},
  {title:'2s3z', exp:'1e8', span:1.0, xticks:xt_1, dec:1, lines:[d_2s3z_maObs,d_2s3z_maFull,d_2s3z_idObs,d_2s3z_idFull], bands:[]},
  {title:'3s5z', exp:'1e8', span:1.0, xticks:xt_1, dec:1, lines:[d_3s5z_maObs,d_3s5z_maFull,d_3s5z_idObs,d_3s5z_idFull], bands:[[3,b_3s5z_idFull],[0,b_3s5z_maObs]]},
  {title:'1c3s5z', exp:'1e7', span:6.0, xticks:xt_6, dec:0, lines:[d_1c3s5z_maObs,d_1c3s5z_maFull,d_1c3s5z_idObs,d_1c3s5z_idFull], bands:[]},
  {title:'10m_vs_11m', exp:'1e8', span:1.0, xticks:xt_1, dec:1, lines:[d_10m_vs_11m_maObs,d_10m_vs_11m_maFull,d_10m_vs_11m_idObs,d_10m_vs_11m_idFull], bands:[[1,b_10m_vs_11m_maFull],[0,b_10m_vs_11m_maObs],[2,b_10m_vs_11m_idObs],[3,b_10m_vs_11m_idFull]]},
  {title:'2c_vs_64zg', exp:'1e8', span:1.0, xticks:xt_1, dec:1, lines:[d_2c_vs_64zg_maObs,d_2c_vs_64zg_maFull,d_2c_vs_64zg_idObs,d_2c_vs_64zg_idFull], bands:[]},
  {title:'bane_vs_bane', exp:'1e7', span:2.5, xticks:xt_25, dec:1, lines:[d_bane_vs_bane_maObs,d_bane_vs_bane_maFull,d_bane_vs_bane_idObs,d_bane_vs_bane_idFull], bands:[[2,b_bane_vs_bane_idObs],[3,b_bane_vs_bane_idFull],[0,b_bane_vs_bane_maObs]]},
  {title:'5m_vs_6m', exp:'1e8', span:1.0, xticks:xt_1, dec:1, lines:[d_5m_vs_6m_maObs,d_5m_vs_6m_maFull,d_5m_vs_6m_idObs,d_5m_vs_6m_idFull], bands:[[0,b_5m_vs_6m_maObs],[3,b_5m_vs_6m_idFull],[2,b_5m_vs_6m_idObs]]},
  {title:'3s_vs_5z', exp:'1e8', span:1.0, xticks:xt_1, dec:1, lines:[d_3s_vs_5z_maObs,d_3s_vs_5z_maFull,d_3s_vs_5z_idObs,d_3s_vs_5z_idFull], bands:[]},
  {title:'3s5z_vs_3s6z', exp:'1e8', span:1.0, xticks:xt_1, dec:1, lines:[d_3s5z_vs_3s6z_maObs,d_3s5z_vs_3s6z_maFull,d_3s5z_vs_3s6z_idObs,d_3s5z_vs_3s6z_idFull], bands:[[3,b_3s5z_vs_3s6z_idFull],[2,b_3s5z_vs_3s6z_idObs],[1,b_3s5z_vs_3s6z_maFull],[0,b_3s5z_vs_3s6z_maObs]]},
  {title:'6h_vs_8z', exp:'1e8', span:1.0, xticks:xt_1, dec:1, lines:[d_6h_vs_8z_maObs,d_6h_vs_8z_maFull,d_6h_vs_8z_idObs,d_6h_vs_8z_idFull], bands:[[2,b_6h_vs_8z_idObs],[0,b_6h_vs_8z_maObs],[1,b_6h_vs_8z_maFull]]},
  {title:'27m_vs_30m', exp:'1e7', span:4.6, xticks:xt_4, dec:0, lines:[d_27m_vs_30m_maObs,d_27m_vs_30m_maFull,d_27m_vs_30m_idObs,d_27m_vs_30m_idFull], bands:[]},
  {title:'MMM2', exp:'1e8', span:1.0, xticks:xt_1, dec:1, lines:[d_MMM2_maObs,d_MMM2_maFull,d_MMM2_idObs,d_MMM2_idFull], bands:[[0,b_MMM2_maObs]]},
  {title:'corridor', exp:'1e8', span:1.0, xticks:xt_1, dec:1, lines:[d_corridor_maObs,d_corridor_maFull,d_corridor_idObs,d_corridor_idFull], bands:[[3,b_corridor_idFull],[0,b_corridor_maObs],[2,b_corridor_idObs]]}
];

// ---------- layout ----------
const colLeft = [0, 787, 1574];
const rowTop = [0, 478, 955, 1433, 1911];
const CW = 760, CH = 485;
const FONT = '"DejaVu Sans", sans-serif';
Chart.defaults.font.family = FONT;
Chart.defaults.color = '#000';

function rgba(hex, a) {
  const n = parseInt(hex.slice(1), 16);
  return `rgba(${(n>>16)&255},${(n>>8)&255},${n&255},${a})`;
}

const offsetTextPlugin = {
  id: 'offsetText',
  afterDraw(chart, args, opts) {
    const ctx = chart.ctx, a = chart.chartArea;
    ctx.save();
    ctx.font = '15px ' + FONT;
    ctx.fillStyle = '#000';
    ctx.textAlign = 'right';
    ctx.textBaseline = 'alphabetic';
    ctx.fillText(opts.text, a.right - 1, a.bottom + 49);
    ctx.restore();
  }
};

plots.forEach((p, i) => {
  const cv = document.createElement('canvas');
  cv.width = CW; cv.height = CH;
  cv.style.left = colLeft[i % 3] + 'px';
  cv.style.top = rowTop[Math.floor(i / 3)] + 'px';
  cv.style.width = CW + 'px'; cv.style.height = CH + 'px';
  document.body.appendChild(cv);

  const datasets = [];
  p.bands.forEach(([si, arr]) => {
    datasets.push({data: arr.map(r => ({x: r[0], y: r[2]})), fill: '+1', backgroundColor: rgba(seriesColors[si], 0.13),
      borderColor: 'transparent', borderWidth: 0, pointRadius: 0, cubicInterpolationMode: 'monotone', order: 20});
    datasets.push({data: arr.map(r => ({x: r[0], y: r[1]})), fill: false, backgroundColor: 'transparent',
      borderColor: 'transparent', borderWidth: 0, pointRadius: 0, cubicInterpolationMode: 'monotone', order: 20});
  });
  const lineOrder = [4, 3, 2, 1];
  p.lines.forEach((arr, si) => {
    datasets.push({label: seriesNames[si], data: arr.map(r => ({x: r[0], y: r[1]})), fill: false,
      borderColor: seriesColors[si], backgroundColor: seriesColors[si], borderWidth: 4.6, pointRadius: 0,
      cubicInterpolationMode: 'monotone', borderJoinStyle: 'round', borderCapStyle: 'butt', order: lineOrder[si]});
  });

  const gridCol = 'rgba(176,176,176,0.65)';
  new Chart(cv, {
    type: 'line',
    data: {datasets},
    plugins: [offsetTextPlugin],
    options: {
      responsive: false, animation: false, devicePixelRatio: 1,
      layout: {padding: {left: 0, right: 5, top: 0, bottom: 0}},
      plugins: {
        legend: {display: false}, tooltip: {enabled: false},
        title: {display: true, text: p.title, fullSize: false, color: '#000',
          font: {family: FONT, size: 46, weight: 'normal', lineHeight: 1}, padding: {top: 8, bottom: 3}},
        offsetText: {text: p.exp}
      },
      scales: {
        x: {type: 'linear', min: -0.05 * p.span, max: 1.05 * p.span,
          afterBuildTicks: s => { s.ticks = p.xticks.map(v => ({value: v})); },
          afterFit: s => { s.height = 74; },
          ticks: {callback: v => Number(v).toFixed(p.dec), font: {family: FONT, size: 15}, color: '#000', padding: 5, maxRotation: 0, autoSkip: false},
          grid: {color: gridCol, lineWidth: 1.2, tickLength: 5, tickColor: '#000', tickWidth: 1.2, drawTicks: true},
          border: {display: true, color: '#000', width: 1.5},
          title: {display: true, text: 'Steps', color: '#000', font: {family: FONT, size: 36, lineHeight: 1}, padding: {top: 0, bottom: 4}}
        },
        y: {type: 'linear', min: -0.05, max: 1.05,
          afterBuildTicks: s => { s.ticks = yTicks.map(v => ({value: v})); },
          afterFit: s => { s.width = 95; },
          ticks: {callback: v => Number(v).toFixed(1), font: {family: FONT, size: 15}, color: '#000', padding: 7},
          grid: {color: gridCol, lineWidth: 1.2, tickLength: 5, tickColor: '#000', tickWidth: 1.2, drawTicks: true},
          border: {display: true, color: '#000', width: 1.5},
          title: {display: true, text: 'Median Win %', color: '#000', font: {family: FONT, size: 36, lineHeight: 1}, padding: {top: 10, bottom: 0}}
        }
      }
    }
  });
});

// ---------- legend ----------
const leg = document.getElementById('legend');
seriesNames.forEach((name, si) => {
  const row = document.createElement('div');
  row.className = 'lrow';
  row.style.top = (7 + si * 49.7) + 'px';
  row.style.width = '100%';
  row.innerHTML = `<div class="lsw" style="background:${seriesColors[si]}"></div><div class="ltx">${name}</div>`;
  leg.appendChild(row);
});
</script>
</body></html>
